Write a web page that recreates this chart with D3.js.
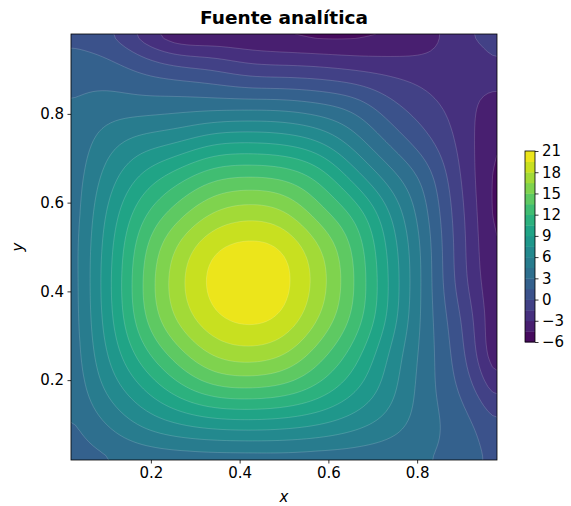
<!DOCTYPE html>
<html>
<head>
<meta charset="utf-8">
<script src="https://cdn.jsdelivr.net/npm/d3@7"></script>
<style>
  body { margin: 0; background: #fff; }
  text { font-family: "DejaVu Sans", sans-serif; fill: #000; }
</style>
</head>
<body>
<svg id="chart" width="571" height="506"></svg>
<script>
// sample positions (cell centres) along x and y
const xs = [0.02, 0.10, 0.18, 0.26, 0.34, 0.42, 0.50, 0.58, 0.66, 0.74, 0.82, 0.90, 0.98];
const ys = [0.02, 0.10, 0.18, 0.26, 0.34, 0.42, 0.50, 0.58, 0.66, 0.74, 0.82, 0.90, 0.98];

// source values, one row per y (bottom row first)
const fuente = [
  [2.0, 2.7, 3.15, 3.35, 3.4, 3.4, 3.45, 3.4, 3.35, 3.2, 3.05, 2.2, 1.1],
  [2.7, 4.5, 6.2, 7.4, 8.1, 8.3, 8.1, 7.5, 6.5, 5.2, 3.6, 2.1, 0.1],
  [3.15, 6.2, 8.9, 11.3, 13.0, 13.4, 12.9, 11.4, 9.2, 6.5, 3.65, 1.2, -2.4],
  [3.35, 7.4, 11.3, 14.4, 16.7, 17.4, 16.6, 14.2, 11.2, 7.3, 3.75, 0.4, -4.5],
  [3.4, 8.1, 13.0, 16.7, 19.1, 19.9, 19.1, 16.4, 12.9, 8.4, 3.8, -0.1, -4.6],
  [3.4, 8.3, 13.4, 17.4, 19.9, 20.75, 19.9, 17.2, 13.4, 8.7, 3.8, -0.8, -4.65],
  [3.45, 8.1, 12.9, 16.6, 19.1, 19.9, 19.2, 16.5, 13.0, 8.4, 3.7, -1.0, -4.95],
  [3.4, 7.5, 11.4, 14.2, 16.4, 17.2, 16.5, 14.1, 11.3, 7.3, 3.2, -1.2, -5.2],
  [3.35, 6.5, 9.2, 11.2, 12.9, 13.4, 13.0, 11.3, 8.2, 5.1, 2.2, -1.6, -5.1],
  [3.2, 5.2, 6.5, 7.3, 8.4, 8.7, 8.4, 7.3, 5.1, 2.6, 0.4, -2.0, -4.8],
  [3.05, 3.6, 3.65, 3.75, 3.8, 3.8, 3.7, 3.2, 2.2, 0.4, -1.0, -2.3, -3.9],
  [2.2, 2.1, 1.2, 0.4, -0.1, -0.8, -1.0, -1.2, -1.6, -2.0, -2.3, -2.4, -1.8],
  [1.1, 0.1, -2.4, -4.5, -4.6, -4.65, -4.95, -5.2, -5.1, -4.8, -3.9, -1.8, -1.0]
];

const niveles = [-6, -4.5, -3, -1.5, 0, 1.5, 3, 4.5, 6, 7.5, 9, 10.5, 12, 13.5, 15, 16.5, 18, 19.5, 21];
const axisTicks = [0.2, 0.4, 0.6, 0.8];
const cbarTicks = [-6, -3, 0, 3, 6, 9, 12, 15, 18, 21];

const svg = d3.select("#chart");
const plot = { left: 71, top: 34, right: 497, bottom: 460 };
const cbar = { left: 525, right: 535, top: 151, bottom: 342 };

const x = d3.scaleLinear().domain([xs[0], xs[xs.length - 1]]).range([plot.left, plot.right]);
const y = d3.scaleLinear().domain([ys[0], ys[ys.length - 1]]).range([plot.bottom, plot.top]);
const norm = d3.scaleLinear().domain([niveles[0], niveles[niveles.length - 1]]).range([0, 1]);
const bandColor = lo => d3.interpolateViridis(norm(lo + 0.75));

// --- smooth the coarse table for drawing (natural cubic spline, per row then per column) ---
function refine(arr, k) {
  const n = arr.length;
  const M = new Array(n).fill(0);
  const cp = new Array(n).fill(0), dp = new Array(n).fill(0);
  for (let i = 1; i < n - 1; i++) {
    const rhs = 6 * (arr[i - 1] - 2 * arr[i] + arr[i + 1]);
    const den = 4 - (i > 1 ? cp[i - 1] : 0);
    cp[i] = 1 / den;
    dp[i] = (rhs - (i > 1 ? dp[i - 1] : 0)) / den;
  }
  for (let i = n - 2; i >= 1; i--) M[i] = dp[i] - cp[i] * M[i + 1];
  const out = [];
  for (let i = 0; i < n - 1; i++) {
    for (let s = 0; s < k; s++) {
      const t = s / k, u = 1 - t;
      out.push(u * arr[i] + t * arr[i + 1] + ((u * u * u - u) * M[i] + (t * t * t - t) * M[i + 1]) / 6);
    }
  }
  out.push(arr[n - 1]);
  return out;
}
// light gaussian blur (reflecting edges) to take out kinks of the coarse table
function blur1(arr, sigma) {
  const r = Math.ceil(sigma * 3), n = arr.length;
  const w = d3.range(-r, r + 1).map(k => Math.exp(-k * k / (2 * sigma * sigma)));
  const ws = d3.sum(w);
  return arr.map((_, i) => {
    let s = 0;
    for (let k = -r; k <= r; k++) {
      let p = i + k;
      if (p < 0) p = -p;
      if (p > n - 1) p = 2 * (n - 1) - p;
      s += w[k + r] * arr[p];
    }
    return s / ws;
  });
}
const K = 8, SIG = 1.5;
const rowsFine = fuente.map(r => blur1(refine(r, K), SIG));
const m = rowsFine[0].length;
const colsFine = d3.range(m).map(i => blur1(refine(rowsFine.map(r => r[i]), K), SIG));
const values = new Array(m * m);
for (let j = 0; j < m; j++) for (let i = 0; i < m; i++) values[j * m + i] = colsFine[i][j];

const hx = (xs[xs.length - 1] - xs[0]) / (m - 1);
const hy = (ys[ys.length - 1] - ys[0]) / (m - 1);
const proj = d3.geoTransform({
  point(gx, gy) {
    this.stream.point(x(xs[0] + (gx - 0.5) * hx), y(ys[0] + (gy - 0.5) * hy));
  }
});
const path = d3.geoPath(proj);
const bands = d3.contours().size([m, m]).thresholds(niveles)(values)
  .filter(c => c.value > niveles[0] && c.value < niveles[niveles.length - 1]);

svg.append("clipPath").attr("id", "clip")
  .append("rect")
  .attr("x", plot.left).attr("y", plot.top)
  .attr("width", plot.right - plot.left).attr("height", plot.bottom - plot.top);

const g = svg.append("g").attr("clip-path", "url(#clip)");
g.append("rect")
  .attr("x", plot.left).attr("y", plot.top)
  .attr("width", plot.right - plot.left).attr("height", plot.bottom - plot.top)
  .attr("fill", bandColor(niveles[0]));

g.selectAll("path.band")
  .data(bands)
  .join("path")
  .attr("class", "band")
  .attr("d", path)
  .attr("fill", d => bandColor(d.value));

// faint seams between the filled levels
g.selectAll("path.seam")
  .data(bands)
  .join("path")
  .attr("class", "seam")
  .attr("d", path)
  .attr("fill", "none")
  .attr("stroke", "rgba(255,255,255,0.32)")
  .attr("stroke-width", 0.5);

// --- axes ---
const fmt = d3.format(".1f");
const xAxis = d3.axisBottom(x).tickValues(axisTicks).tickFormat(fmt).tickSize(3.5).tickPadding(3.5);
const yAxis = d3.axisLeft(y).tickValues(axisTicks).tickFormat(fmt).tickSize(3.5).tickPadding(3.5);

svg.append("g").attr("transform", `translate(0,${plot.bottom})`).call(xAxis)
  .call(a => a.select(".domain").remove());
svg.append("g").attr("transform", `translate(${plot.left},0)`).call(yAxis)
  .call(a => a.select(".domain").remove());
svg.selectAll(".tick line").attr("stroke", "#000").attr("stroke-width", 0.8);
svg.selectAll(".tick text")
  .style("font-family", "'DejaVu Sans', sans-serif")
  .style("font-size", "15px")
  .attr("fill", "#000");

svg.append("rect")
  .attr("x", plot.left).attr("y", plot.top)
  .attr("width", plot.right - plot.left).attr("height", plot.bottom - plot.top)
  .attr("fill", "none").attr("stroke", "#000").attr("stroke-width", 0.8);

// title and axis labels
svg.append("text")
  .attr("x", (plot.left + plot.right) / 2).attr("y", 24)
  .attr("text-anchor", "middle")
  .style("font-size", "18.5px").style("font-weight", "bold")
  .text("Fuente analítica");

svg.append("text")
  .attr("x", (plot.left + plot.right) / 2).attr("y", 502)
  .attr("text-anchor", "middle")
  .style("font-size", "15px").style("font-style", "italic")
  .text("x");

svg.append("text")
  .attr("transform", `translate(23,${(plot.top + plot.bottom) / 2}) rotate(-90)`)
  .attr("text-anchor", "middle")
  .style("font-size", "15px").style("font-style", "italic")
  .text("y");

// --- colorbar ---
const cy = d3.scaleLinear().domain([niveles[0], niveles[niveles.length - 1]]).range([cbar.bottom, cbar.top]);
svg.append("g").selectAll("rect")
  .data(niveles.slice(0, -1))
  .join("rect")
  .attr("x", cbar.left)
  .attr("width", cbar.right - cbar.left)
  .attr("y", d => cy(d + 1.5))
  .attr("height", d => cy(d) - cy(d + 1.5) + 0.4)
  .attr("fill", d => bandColor(d));

svg.append("rect")
  .attr("x", cbar.left).attr("y", cbar.top)
  .attr("width", cbar.right - cbar.left).attr("height", cbar.bottom - cbar.top)
  .attr("fill", "none").attr("stroke", "#000").attr("stroke-width", 0.8);

const cAxis = d3.axisRight(cy).tickValues(cbarTicks)
  .tickFormat(d => d < 0 ? "\u2212" + Math.abs(d) : String(d))
  .tickSize(3.5).tickPadding(3.5);
svg.append("g").attr("transform", `translate(${cbar.right},0)`).call(cAxis)
  .call(a => a.select(".domain").remove())
  .call(a => a.selectAll("line").attr("stroke", "#000").attr("stroke-width", 0.8))
  .call(a => a.selectAll("text")
    .style("font-family", "'DejaVu Sans', sans-serif")
    .style("font-size", "15px").attr("fill", "#000"));
</script>
</body>
</html>
